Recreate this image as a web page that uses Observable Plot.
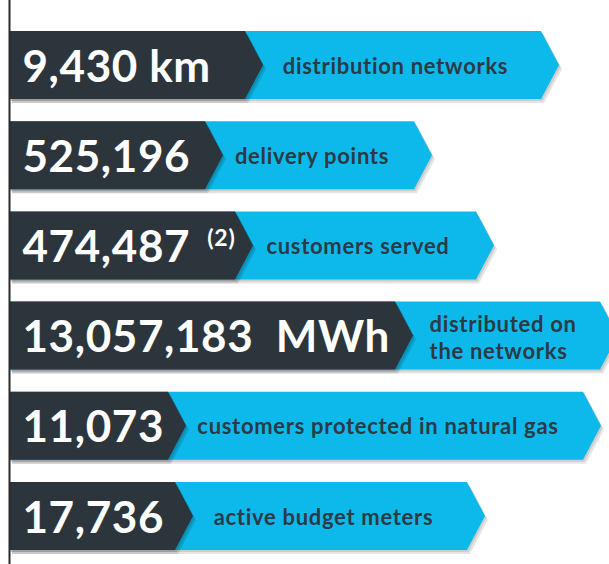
<!DOCTYPE html>
<html>
<head>
<meta charset="utf-8">
<script src="https://cdn.jsdelivr.net/npm/d3@7"></script>
<script src="https://cdn.jsdelivr.net/npm/@observablehq/plot@0.6"></script>
<style>
  html, body { margin: 0; padding: 0; background: #ffffff; }
  svg g[font-size="44"] { letter-spacing: 0.6px; }
  svg g[font-size="22"] { letter-spacing: 0.7px; }
  svg g[font-size="23"] { letter-spacing: 0.8px; }
</style>
</head>
<body>
<div id="chart"></div>
<script>
// ---- data ----
const figures = ["9,430 km", "525,196", "474,487", "13,057,183  MWh", "11,073", "17,736"];
const notes = ["", "", "(2)", "", "", ""];
const labels = [
  "distribution networks",
  "delivery points",
  "customers served",
  "distributed on\nthe networks",
  "customers protected in natural gas",
  "active budget meters"
];
// lengths of the dark (figure) arrow and the blue (label) arrow
const figureLength = [236, 196, 226, 386, 159, 166];
const labelLength = [532, 405, 467, 591, 574, 458];

// ---- build tables ----
const tip = 18;     // arrow point depth
const half = 0.377; // half row thickness in row units

function arrowPoints(lengths) {
  const pts = [];
  lengths.forEach((len, i) => {
    pts.push({row: i, y: i - half, x1: 0, x2: len});
    pts.push({row: i, y: i, x1: 0, x2: len + tip});
    pts.push({row: i, y: i + half, x1: 0, x2: len});
  });
  return pts;
}
const rows = figures.map((f, i) => ({
  row: i,
  figure: f,
  note: notes[i],
  label: labels[i],
  multiline: labels[i].includes("\n"),
  figEnd: figureLength[i],
  labEnd: labelLength[i],
  labMid: (figureLength[i] + labelLength[i]) / 2
}));

const font = "Lato, 'Open Sans', sans-serif";
const arrowOpts = {x1: "x1", x2: "x2", y: "y", z: "row"};

const chart = Plot.plot({
  width: 609,
  height: 564,
  margin: 0,
  x: {domain: [-9, 600], range: [0, 609], axis: null},
  y: {domain: [-65 / 90.2, (564 - 65) / 90.2], range: [0, 564], axis: null},
  marks: [
    // soft shadows
    Plot.areaX(arrowPoints(labelLength), {...arrowOpts, fill: "#000000", fillOpacity: 0.10, dx: 3, dy: 4}),
    Plot.areaX(arrowPoints(labelLength), {...arrowOpts, fill: "#000000", fillOpacity: 0.10, dx: 1.5, dy: 2}),
    Plot.areaX(arrowPoints(labelLength), {...arrowOpts, fill: "#0db9eb"}),
    Plot.areaX(arrowPoints(figureLength), {...arrowOpts, fill: "#000000", fillOpacity: 0.12, dx: 3, dy: 4}),
    Plot.areaX(arrowPoints(figureLength), {...arrowOpts, fill: "#000000", fillOpacity: 0.12, dx: 1.5, dy: 2}),
    Plot.areaX(arrowPoints(figureLength), {...arrowOpts, fill: "#2c353c"}),
    Plot.ruleX([0], {stroke: "#2a2a2a", strokeWidth: 2}),
    Plot.text(rows, {
      x: 0, y: "row", text: "figure", dx: 13, dy: 2,
      textAnchor: "start", lineAnchor: "middle",
      fill: "#ffffff", fontSize: 44, fontWeight: 700, fontFamily: font
    }),
    Plot.text(rows.filter(d => d.note), {
      x: "figEnd", y: "row", text: "note", dx: 0, dy: -7,
      textAnchor: "end", lineAnchor: "middle",
      fill: "#ffffff", fontSize: 23, fontWeight: 700, fontFamily: font
    }),
    Plot.text(rows.filter(d => !d.multiline), {
      x: "labMid", y: "row", text: "label", dx: 2, dy: 1,
      textAnchor: "middle", lineAnchor: "middle",
      fill: "#2b3a45", fontSize: 22, fontWeight: 700, fontFamily: font
    }),
    Plot.text(rows.filter(d => d.multiline), {
      x: "figEnd", y: "row", text: "label", dx: 34, dy: 1,
      textAnchor: "start", lineAnchor: "middle", lineHeight: 1.22,
      fill: "#2b3a45", fontSize: 22, fontWeight: 700, fontFamily: font
    })
  ]
});
document.getElementById("chart").appendChild(chart);
</script>
</body>
</html>
